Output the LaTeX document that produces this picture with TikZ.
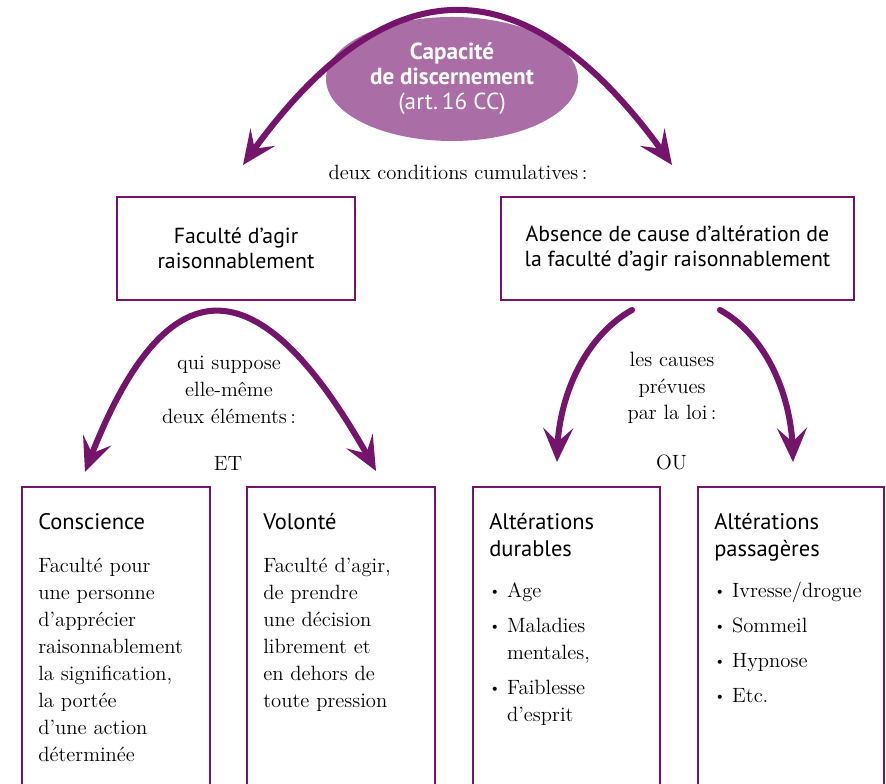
\documentclass[tikz,border=0pt]{standalone}
\usepackage{fontspec}
\newfontfamily\sansf{PT Sans}
\usetikzlibrary{positioning, arrows.meta, bending, shapes.geometric}
\definecolor{prune}{HTML}{74146B}
\definecolor{mauve}{HTML}{AB6DA5}
\newcommand{\puce}{\raisebox{0.25ex}{\fontsize{10}{10}\selectfont\textbullet}\ }

\begin{document}
\begin{tikzpicture}[
    >={Stealth[length=8.5mm, width=7.5mm, inset=3.5mm]},
    bigarc/.style={line width=4.3pt, draw=prune, line cap=round},
    topbox/.style={draw=prune, line width=1.6pt, minimum height=2.575cm, align=center,
      font=\sansf\fontsize{15.5}{17.5}\selectfont},
    lowbox/.style={draw=prune, line width=1.6pt, anchor=north west, minimum height=8cm},
    lowtext/.style={anchor=base west, inner sep=0pt, text width=4.3cm, align=left,
      font=\fontsize{14.7}{19.2}\selectfont},
    serif/.style={align=center, font=\fontsize{14.7}{19}\selectfont}
  ]
  \path[use as bounding box, clip] (0,0) rectangle (22.15,19.575);

  \node[ellipse, fill=mauve, minimum width=6.3cm, minimum height=3.1cm, inner sep=0pt,
        text=white, align=center, font=\sansf\fontsize{16.5}{17.8}\selectfont] (capa) at (11.3,17.6)
        {\textbf{Capacité}\\ \textbf{de discernement}\\ (art.\,16 CC)};
  \node[serif] (cond) at (11.45,15.275) {deux conditions cumulatives\,:};

  \node[topbox, minimum width=5.95cm] (facul) at (5.9,13.3625) {Faculté d’agir\\ raisonnablement};
  \node[topbox, minimum width=8.825cm] (absen) at (16.9375,13.3625)
        {Absence de cause d’altération de\\ la faculté d’agir raisonnablement};

  \coordinate (capaL) at (6.075,15.45);
  \coordinate (capaR) at (16.8,15.45);
  \draw[bigarc, <->] (capaL) .. controls (9.65,20.62) and (13.225,20.62) .. (capaR);

  \node[serif] (suppose) at (5.725,9.825) {qui suppose\\ elle-même\\ deux éléments\,:};
  \node[serif] (et) at (5.7,8.0) {ET};
  \node[serif] (causes) at (16.8,9.875) {les causes\\ prévues\\ par la loi\,:};
  \node[serif] (ou) at (16.79,8.025) {OU};

  \coordinate (conscA) at (2.125,7.775);
  \coordinate (volA) at (9.4,7.8);
  \draw[bigarc, <->] (conscA) .. controls (4.1075,13.15) and (6.5075,13.15) .. (volA);

  \coordinate (durS) at (15.8,11.825);
  \coordinate (durA) at (13.925,8.025);
  \draw[bigarc, ->] (durS) .. controls (14.675,11.2) and (13.9,9.7) .. (durA);
  \coordinate (pasS) at (18.0,11.825);
  \coordinate (pasA) at (19.825,8.025);
  \draw[bigarc, ->] (pasS) .. controls (19.125,11.2) and (19.85,9.7) .. (pasA);

  \node[lowbox, minimum width=4.7cm] (consc) at (0.525,7.425) {};
  \node[lowbox, minimum width=4.7cm] (vol) at (6.15,7.425) {};
  \node[lowbox, minimum width=4.675cm] (dur) at (11.8,7.425) {};
  \node[lowbox, minimum width=4.65cm] (pas) at (17.425,7.425) {};

  \node[lowtext] (conscT) at ([shift={(0.425,-1.1)}]consc.north west)
        {{\sansf\fontsize{16}{19.2}\selectfont Conscience}\\[0.4cm]
         Faculté pour\\ une personne\\ d’apprécier\\ raisonnablement\\
         la signification,\\ la portée\\ d’une action\\ déterminée};
  \node[lowtext] (volT) at ([shift={(0.425,-1.1)}]vol.north west)
        {{\sansf\fontsize{16}{19.2}\selectfont Volonté}\\[0.4cm]
         Faculté d’agir,\\ de prendre\\ une décision\\ librement et\\
         en dehors de\\ toute pression};
  \node[lowtext] (durT) at ([shift={(0.425,-1.1)}]dur.north west)
        {{\sansf\fontsize{16}{19.2}\selectfont Altérations}\\ {\sansf\fontsize{16}{19.2}\selectfont durables}\\[0.35cm]
         \puce Age\\[0.2cm]
         \puce Maladies\\ \phantom{\puce}mentales,\\[0.2cm]
         \puce Faiblesse\\ \phantom{\puce}d’esprit};
  \node[lowtext] (pasT) at ([shift={(0.425,-1.1)}]pas.north west)
        {{\sansf\fontsize{16}{19.2}\selectfont Altérations}\\ {\sansf\fontsize{16}{19.2}\selectfont passagères}\\[0.35cm]
         \puce Ivresse/drogue\\[0.2cm]
         \puce Sommeil\\[0.2cm]
         \puce Hypnose\\[0.2cm]
         \puce Etc.};
\end{tikzpicture}
\end{document}
